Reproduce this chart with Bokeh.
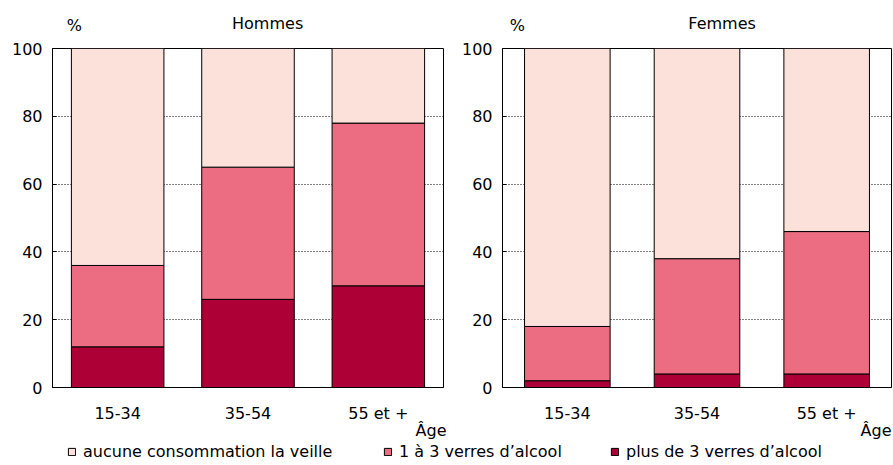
import math
from bokeh.plotting import figure
from bokeh.models import ColumnDataSource, FixedTicker, Label, Legend, LegendItem, Range1d, FactorRange, Title
from bokeh.layouts import column, row
from bokeh.embed import file_html
from bokeh.resources import INLINE

# ---- data ----
categories = ["15-34", "35-54", "55 et +"]
hommes_plus3 = [12, 26, 30]
hommes_1a3 = [24, 39, 48]
hommes_aucune = [64, 35, 22]
femmes_plus3 = [2, 4, 4]
femmes_1a3 = [16, 34, 42]
femmes_aucune = [82, 62, 54]
y_ticks = [0, 20, 40, 60, 80, 100]
series_labels = ["aucune consommation la veille", "1 à 3 verres d\u2019alcool", "plus de 3 verres d\u2019alcool"]
panel_titles = ["Hommes", "Femmes"]
unit_label = "%"
x_axis_title = "Âge"

FONT = "DejaVu Sans"
FS = "16px"
C_AUCUNE = "#FCE0DA"
C_1A3 = "#EC6C81"
C_PLUS3 = "#AD0036"

HEADER_H = 36
BORDER_TOP = 12
FRAME_H = 339
BORDER_BOTTOM = 54
PANEL_H = BORDER_TOP + FRAME_H + BORDER_BOTTOM


def make_header(width, title, pct_x, title_x):
    h = figure(width=width, height=HEADER_H, x_range=Range1d(0, width), y_range=Range1d(0, HEADER_H),
               output_backend="svg", toolbar_location=None, min_border=0,
               x_axis_location=None, y_axis_location=None)
    h.grid.visible = False
    h.outline_line_color = None
    h.add_layout(Label(x=pct_x, y=HEADER_H - 25, text=unit_label, text_align="center",
                       text_baseline="middle", text_font=FONT, text_font_size=FS, text_color="black"))
    h.add_layout(Label(x=title_x, y=HEADER_H - 23, text=title, text_align="center",
                       text_baseline="middle", text_font=FONT, text_font_size=FS, text_color="black"))
    return h


def make_panel(plus3, un3, aucune, width, bl, br, bar_width, age_offset):
    src = ColumnDataSource(dict(age=categories, plus3=plus3, un3=un3, aucune=aucune))
    p = figure(x_range=FactorRange(*categories), y_range=Range1d(0, 100),
               width=width, height=PANEL_H, output_backend="svg", toolbar_location=None,
               min_border_left=bl, min_border_right=br, min_border_top=BORDER_TOP,
               min_border_bottom=BORDER_BOTTOM)
    p.x_range.range_padding = 0
    p.vbar_stack(["plus3", "un3", "aucune"], x="age", width=bar_width, source=src,
                 fill_color=[C_PLUS3, C_1A3, C_AUCUNE], line_color="black", line_width=1)

    p.yaxis.ticker = FixedTicker(ticks=y_ticks)
    p.yaxis.major_tick_in = 4
    p.yaxis.major_tick_out = 0
    p.yaxis.minor_tick_line_color = None
    p.yaxis.major_label_standoff = 10
    p.xaxis.major_tick_in = 0
    p.xaxis.major_tick_out = 0
    p.xaxis.major_label_standoff = 16
    for ax in (p.xaxis, p.yaxis):
        ax.axis_line_color = "black"
        ax.major_tick_line_color = "black"
        ax.major_label_text_font = FONT
        ax.major_label_text_font_size = FS
        ax.major_label_text_color = "black"
    p.add_layout(Title(text=x_axis_title, align="right", offset=age_offset, standoff=-10,
                       vertical_align="top",
                       text_font=FONT, text_font_size=FS, text_font_style="normal",
                       text_color="black"), "below")
    p.xgrid.visible = False
    p.ygrid.grid_line_color = "black"
    p.ygrid.grid_line_dash = "1 2"
    p.ygrid.grid_line_width = 1
    p.outline_line_color = "black"
    p.outline_line_width = 1
    p.background_fill_color = "white"
    p.border_fill_color = "white"
    return p


h1 = make_header(458, panel_titles[0], 25.5, 252)
p1 = make_panel(hommes_plus3, hommes_1a3, hommes_aucune, 458, 52, 15, 0.71, -3)
h2 = make_header(434, panel_titles[1], 16.5, 245)
p2 = make_panel(femmes_plus3, femmes_1a3, femmes_aucune, 434, 42, 1, 0.66, 0)

# ---- legend strip ----
LEG_H = 465 - HEADER_H - PANEL_H
pl = figure(width=892, height=LEG_H, x_range=Range1d(0, 1), y_range=Range1d(0, 1),
            output_backend="svg", toolbar_location=None, min_border=0,
            x_axis_location=None, y_axis_location=None)
pl.grid.visible = False
pl.outline_line_color = None
legend_colors = [C_AUCUNE, C_1A3, C_PLUS3]
legend_x = [67, 383, 610]
for lab, col, lx in zip(series_labels, legend_colors, legend_x):
    r = pl.vbar(x=[math.nan], top=[math.nan], width=0.5, fill_color=col, line_color="black", line_width=1)
    leg = Legend(items=[LegendItem(label=lab, renderers=[r])], location=(lx, 4),
                 orientation="horizontal", padding=0, margin=0, border_line_color=None,
                 background_fill_alpha=0, glyph_width=9, glyph_height=9, label_height=9,
                 label_standoff=7, label_text_font=FONT, label_text_font_size=FS,
                 label_text_color="black")
    pl.add_layout(leg)

layout = column(row(column(h1, p1), column(h2, p2)), pl)
open("out.html", "w").write(file_html(layout, INLINE))
